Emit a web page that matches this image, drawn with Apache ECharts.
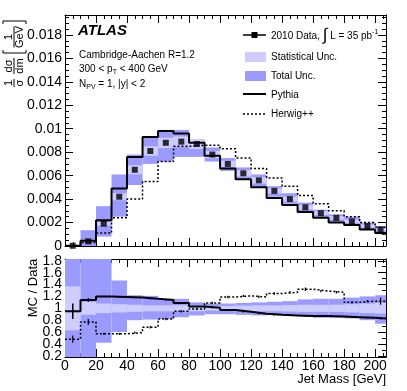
<!DOCTYPE html>
<html>
<head>
<meta charset="utf-8">
<title>Jet mass</title>
<script src="https://cdn.jsdelivr.net/npm/echarts@6.0.0/dist/echarts.min.js"></script>
<style>
  html, body { margin: 0; background: #fff; }
  #chart { width: 407px; height: 391px; }
</style>
</head>
<body>
<div id="chart"></div>
<script>
// bins (GeV)
const binLo = [0, 10, 20, 30, 40, 50, 60, 70, 80, 90, 100, 110, 120, 130, 140, 150, 160, 170, 180, 190, 200];
const binHi = [10, 20, 30, 40, 50, 60, 70, 80, 90, 100, 110, 120, 130, 140, 150, 160, 170, 180, 190, 200, 207];

// top panel: 1/sigma dsigma/dm
const dataVal = [0.00002, 0.0004, 0.0019, 0.0042, 0.0065, 0.0081, 0.0088, 0.0089, 0.0087, 0.0078, 0.0070, 0.0062, 0.0056, 0.0047, 0.0040, 0.0033, 0.0028, 0.0024, 0.0021, 0.0017, 0.0014];
const totLo = [0, 0, 0.0008, 0.0025, 0.0052, 0.0070, 0.0072, 0.0076, 0.0076, 0.0072, 0.0064, 0.0057, 0.0050, 0.0042, 0.0036, 0.0029, 0.0024, 0.0020, 0.0018, 0.00145, 0.0010];
const totHi = [0.00004, 0.00135, 0.0034, 0.0061, 0.0078, 0.0093, 0.0099, 0.0099, 0.0091, 0.0084, 0.0075, 0.0067, 0.0061, 0.0051, 0.0045, 0.0037, 0.0031, 0.0027, 0.0025, 0.0020, 0.0017];
const pythia = [0.00002, 0.00045, 0.0022, 0.0049, 0.0076, 0.0093, 0.0098, 0.0096, 0.0088, 0.0077, 0.0066, 0.0057, 0.0050, 0.0041, 0.0035, 0.0029, 0.0024, 0.0020, 0.0018, 0.0014, 0.0011];
const herwig = [0.00001, 0.0003, 0.0011, 0.0024, 0.0040, 0.0055, 0.0072, 0.0085, 0.0086, 0.0086, 0.0083, 0.0075, 0.0066, 0.0058, 0.0051, 0.0043, 0.0036, 0.0030, 0.0025, 0.0020, 0.0016];
// relative statistical uncertainty
const statRel = [0.37, 0.11, 0.08, 0.07, 0.06, 0.05, 0.05, 0.05, 0.05, 0.04, 0.04, 0.045, 0.05, 0.05, 0.055, 0.06, 0.06, 0.06, 0.07, 0.08, 0.09];

// bottom panel: MC / Data
const ratLo = [0, 0, 0.42, 0.6, 0.80, 0.81, 0.82, 0.85, 0.88, 0.90, 0.90, 0.89, 0.88, 0.89, 0.88, 0.86, 0.84, 0.84, 0.83, 0.80, 0.74];
const ratHi = [2, 2, 2, 1.47, 1.22, 1.21, 1.16, 1.16, 1.10, 1.08, 1.08, 1.09, 1.10, 1.11, 1.12, 1.15, 1.16, 1.16, 1.18, 1.20, 1.22];
const pythRatio = [0.95, 1.14, 1.20, 1.19, 1.18, 1.16, 1.14, 1.09, 1.03, 1.01, 0.97, 0.94, 0.91, 0.89, 0.88, 0.87, 0.87, 0.86, 0.85, 0.84, 0.83];
const pythErr = [0.13, 0.03, 0.01, 0.01, 0.01, 0.01, 0.01, 0.01, 0.01, 0.01, 0.01, 0.01, 0.01, 0.01, 0.01, 0.01, 0.01, 0.01, 0.01, 0.01, 0.02];
const herwRatio = [0.48, 0.77, 0.57, 0.57, 0.59, 0.68, 0.82, 0.95, 0.99, 1.09, 1.19, 1.21, 1.19, 1.25, 1.27, 1.32, 1.29, 1.27, 1.10, 1.12, 1.12];
const herwErr = [0.06, 0.05, 0.02, 0.02, 0.02, 0.02, 0.02, 0.02, 0.02, 0.02, 0.02, 0.02, 0.02, 0.02, 0.02, 0.03, 0.02, 0.02, 0.02, 0.02, 0.06];

const ratioTicks = [0.2, 0.4, 0.6, 0.8, 1, 1.2, 1.4, 1.6, 1.8];
const ratioMinor = [0.3, 0.5, 0.7, 0.9, 1.1, 1.3, 1.5, 1.7];
// tick labels split in two sets so none of them gets hidden as overlapping
const ratioLabelsA = [0.2, 0.6, 1, 1.4, 1.8];
const ratioLabelsB = [0.4, 0.8, 1.2, 1.6];

const FONT = '"Liberation Sans", Arial, sans-serif';
const DARK = '#9b9bff';
const LIGHT = '#cdcdff';

const centers = binLo.map((x, i) => (x + binHi[i]) / 2);
const statLoTop = dataVal.map((v, i) => v * (1 - statRel[i]));
const statHiTop = dataVal.map((v, i) => v * (1 + statRel[i]));
const statLoRat = statRel.map(s => 1 - s);
const statHiRat = statRel.map(s => 1 + s);

// text helpers
const mctx = document.createElement('canvas').getContext('2d');
function tw(t, size) {
  mctx.font = size + 'px "Liberation Sans"';
  return mctx.measureText(t).width;
}
function textRun(x, y, parts) {
  return parts.map(p => {
    const el = {type: 'text', x: x, y: y + (p[2] || 0),
      style: {text: p[0], fontSize: p[1], fontFamily: FONT, fill: '#000', align: 'left', verticalAlign: 'middle'}};
    x += tw(p[0], p[1]);
    return el;
  });
}

// axes
function ax(grid, pos, o) {
  const a = {
    type: 'value', gridIndex: grid, position: pos, min: o.min, max: o.max,
    axisLine: {show: !!o.line, onZero: false, lineStyle: {color: '#000', width: 1}},
    axisTick: {show: o.len > 0, inside: true, length: o.len, lineStyle: {color: '#000', width: 1}},
    axisLabel: {show: false},
    splitLine: {show: false}
  };
  if (o.interval) a.interval = o.interval;
  if (o.ticks) a.axisTick.customValues = o.ticks;
  if (o.label) {
    a.axisLabel = Object.assign({show: true, color: '#000', fontFamily: FONT, fontSize: 14, showMaxLabel: false}, o.label);
  }
  return a;
}
const XMAX = 207, YMAX = 0.0197, RMIN = 0.18, RMAX = 1.83;
const ratioLabel = vals => ({margin: 3, customValues: vals, showMaxLabel: true, showMinLabel: true,
  hideOverlap: false, formatter: v => String(+(+v).toFixed(1))});
const xAxes = [
  ax(0, 'bottom', {min: 0, max: XMAX, interval: 20, len: 8, line: true}),
  ax(0, 'top', {min: 0, max: XMAX, interval: 20, len: 8, line: true}),
  ax(0, 'bottom', {min: 0, max: XMAX, interval: 5, len: 4}),
  ax(0, 'top', {min: 0, max: XMAX, interval: 5, len: 4}),
  ax(1, 'bottom', {min: 0, max: XMAX, interval: 20, len: 8, line: true, label: {margin: 2, fontSize: 14}}),
  ax(1, 'top', {min: 0, max: XMAX, interval: 20, len: 8, line: true}),
  ax(1, 'bottom', {min: 0, max: XMAX, interval: 5, len: 4}),
  ax(1, 'top', {min: 0, max: XMAX, interval: 5, len: 4})
];
const yAxes = [
  ax(0, 'left', {min: 0, max: YMAX, interval: 0.002, len: 8, line: true,
    label: {margin: 3, formatter: v => String(+v.toFixed(4))}}),
  ax(0, 'right', {min: 0, max: YMAX, interval: 0.002, len: 8, line: true}),
  ax(0, 'left', {min: 0, max: YMAX, interval: 0.0005, len: 4}),
  ax(0, 'right', {min: 0, max: YMAX, interval: 0.0005, len: 4}),
  ax(1, 'left', {min: RMIN, max: RMAX, ticks: ratioTicks, len: 8, line: true, label: ratioLabel(ratioLabelsA)}),
  ax(1, 'right', {min: RMIN, max: RMAX, ticks: ratioTicks, len: 8, line: true}),
  ax(1, 'left', {min: RMIN, max: RMAX, ticks: ratioMinor, len: 4}),
  ax(1, 'right', {min: RMIN, max: RMAX, ticks: ratioMinor, len: 4}),
  ax(1, 'left', {min: RMIN, max: RMAX, ticks: ratioTicks, len: 0, label: ratioLabel(ratioLabelsB)})
];

// series builders
function band(idx, lo, hi, color) {
  return {
    type: 'custom', xAxisIndex: idx, yAxisIndex: idx, silent: true,
    data: binLo.map((x, i) => [x, binHi[i], lo[i], hi[i]]),
    renderItem: function (params, api) {
      const a = api.coord([api.value(0), api.value(3)]);
      const b = api.coord([api.value(1), api.value(2)]);
      const cs = params.coordSys;
      const r = echarts.graphic.clipRectByRect(
        {x: a[0], y: a[1], width: b[0] - a[0], height: b[1] - a[1]},
        {x: cs.x, y: cs.y, width: cs.width, height: cs.height});
      return r && {type: 'rect', shape: r, style: {fill: color}};
    }
  };
}
function stepLine(idx, vals, dash, width) {
  const d = binLo.map((x, i) => [x, vals[i]]);
  d.push([binHi[binHi.length - 1], vals[vals.length - 1]]);
  return {
    type: 'line', xAxisIndex: idx, yAxisIndex: idx, step: 'end', data: d,
    symbol: 'none', silent: true,
    lineStyle: {color: '#000', width: width, type: dash || 'solid'}
  };
}
function errBars(idx, vals, errs, width) {
  return {
    type: 'custom', xAxisIndex: idx, yAxisIndex: idx, silent: true,
    data: centers.map((c, i) => [c, vals[i] - errs[i], vals[i] + errs[i]]),
    renderItem: function (params, api) {
      const a = api.coord([api.value(0), api.value(1)]);
      const b = api.coord([api.value(0), api.value(2)]);
      return {type: 'line', shape: {x1: a[0], y1: a[1], x2: b[0], y2: b[1]},
        style: {stroke: '#000', lineWidth: width}};
    }
  };
}

// y-axis title of the top panel: 1/sigma dsigma/dm [1/GeV], rotated
function fr(x, num, den, w) {
  return [
    {type: 'text', x: x, y: -5.5, style: {text: num, fontSize: 11, fontFamily: FONT, fill: '#000', align: 'center', verticalAlign: 'middle'}},
    {type: 'text', x: x, y: 6, style: {text: den, fontSize: 11, fontFamily: FONT, fill: '#000', align: 'center', verticalAlign: 'middle'}},
    {type: 'line', shape: {x1: x - w / 2, y1: 0, x2: x + w / 2, y2: 0}, style: {stroke: '#000', lineWidth: 1}}
  ];
}
const yTitle = {
  type: 'group', x: 14, y: 87, rotation: Math.PI / 2,
  children: [].concat(
    fr(4, '1', 'σ', 8),
    fr(21, 'dσ', 'dm', 16),
    fr(50, '1', 'GeV', 21),
    [
      {type: 'polyline', shape: {points: [[37, -11], [34, -11], [34, 12], [37, 12]]}, style: {stroke: '#000', lineWidth: 1, fill: null}},
      {type: 'polyline', shape: {points: [[63, -11], [66, -11], [66, 12], [63, 12]]}, style: {stroke: '#000', lineWidth: 1, fill: null}}
    ]
  )
};

// legend
const LX = 243, LW = 23, TX = 271;
const legend = [
  {type: 'line', shape: {x1: LX, y1: 35, x2: LX + LW, y2: 35}, style: {stroke: '#000', lineWidth: 1.5}},
  {type: 'rect', shape: {x: LX + LW / 2 - 3, y: 32, width: 6, height: 6}, style: {fill: '#000'}},
  {type: 'rect', shape: {x: LX + 2, y: 52, width: 21, height: 10}, style: {fill: LIGHT}},
  {type: 'rect', shape: {x: LX + 2, y: 71, width: 21, height: 10}, style: {fill: DARK}},
  {type: 'line', shape: {x1: LX, y1: 94, x2: LX + LW, y2: 94}, style: {stroke: '#000', lineWidth: 2}},
  {type: 'line', shape: {x1: LX, y1: 114, x2: LX + LW, y2: 114}, style: {stroke: '#000', lineWidth: 1.5, lineDash: [2, 2]}}
].concat(
  textRun(TX, 36, [['2010 Data, ', 10], ['∫', 17, -1], [' L = 35 pb', 10], ['-1', 7, -4]]),
  textRun(TX, 57, [['Statistical Unc.', 10]]),
  textRun(TX, 76, [['Total Unc.', 10]]),
  textRun(TX, 95, [['Pythia', 10]]),
  textRun(TX, 114, [['Herwig++', 10]])
);

const labels = [
  {type: 'text', x: 78, y: 31, style: {text: 'ATLAS', fontSize: 15, fontWeight: 'bold', fontStyle: 'italic', fontFamily: FONT, fill: '#000', verticalAlign: 'middle'}},
  {type: 'text', x: 33, y: 288, rotation: Math.PI / 2, style: {text: 'MC / Data', fontSize: 13, fontFamily: FONT, fill: '#000', align: 'center', verticalAlign: 'middle'}},
  {type: 'text', x: 386, y: 379, style: {text: 'Jet Mass [GeV]', fontSize: 13, fontFamily: FONT, fill: '#000', align: 'right', verticalAlign: 'middle'}}
].concat(
  textRun(79, 55, [['Cambridge-Aachen R=1.2', 10]]),
  textRun(79, 69, [['300 < p', 10], ['T', 7, 3], [' < 400 GeV', 10]]),
  textRun(79, 84, [['N', 10], ['PV', 7, 3], [' = 1, |y| < 2', 10]])
);

const chart = echarts.init(document.getElementById('chart'));
chart.setOption({
  animation: false,
  backgroundColor: '#fff',
  grid: [
    {left: 65, top: 15, width: 321, height: 231},
    {left: 65, top: 259, width: 321, height: 98}
  ],
  xAxis: xAxes,
  yAxis: yAxes,
  graphic: [yTitle].concat(legend, labels),
  series: [
    band(0, totLo, totHi, DARK),
    band(0, statLoTop, statHiTop, LIGHT),
    stepLine(0, pythia, null, 2),
    stepLine(0, herwig, [2, 2], 1.5),
    {
      type: 'scatter', xAxisIndex: 0, yAxisIndex: 0, silent: true,
      symbol: 'rect', symbolSize: 6, itemStyle: {color: '#000'},
      data: centers.map((c, i) => [c, dataVal[i]])
    },
    band(4, ratLo, ratHi, DARK),
    band(4, statLoRat, statHiRat, LIGHT),
    stepLine(4, pythRatio, null, 2),
    stepLine(4, herwRatio, [2, 2], 1.5),
    errBars(4, pythRatio, pythErr, 1.5),
    errBars(4, herwRatio, herwErr, 1.2)
  ]
});
</script>
</body>
</html>
